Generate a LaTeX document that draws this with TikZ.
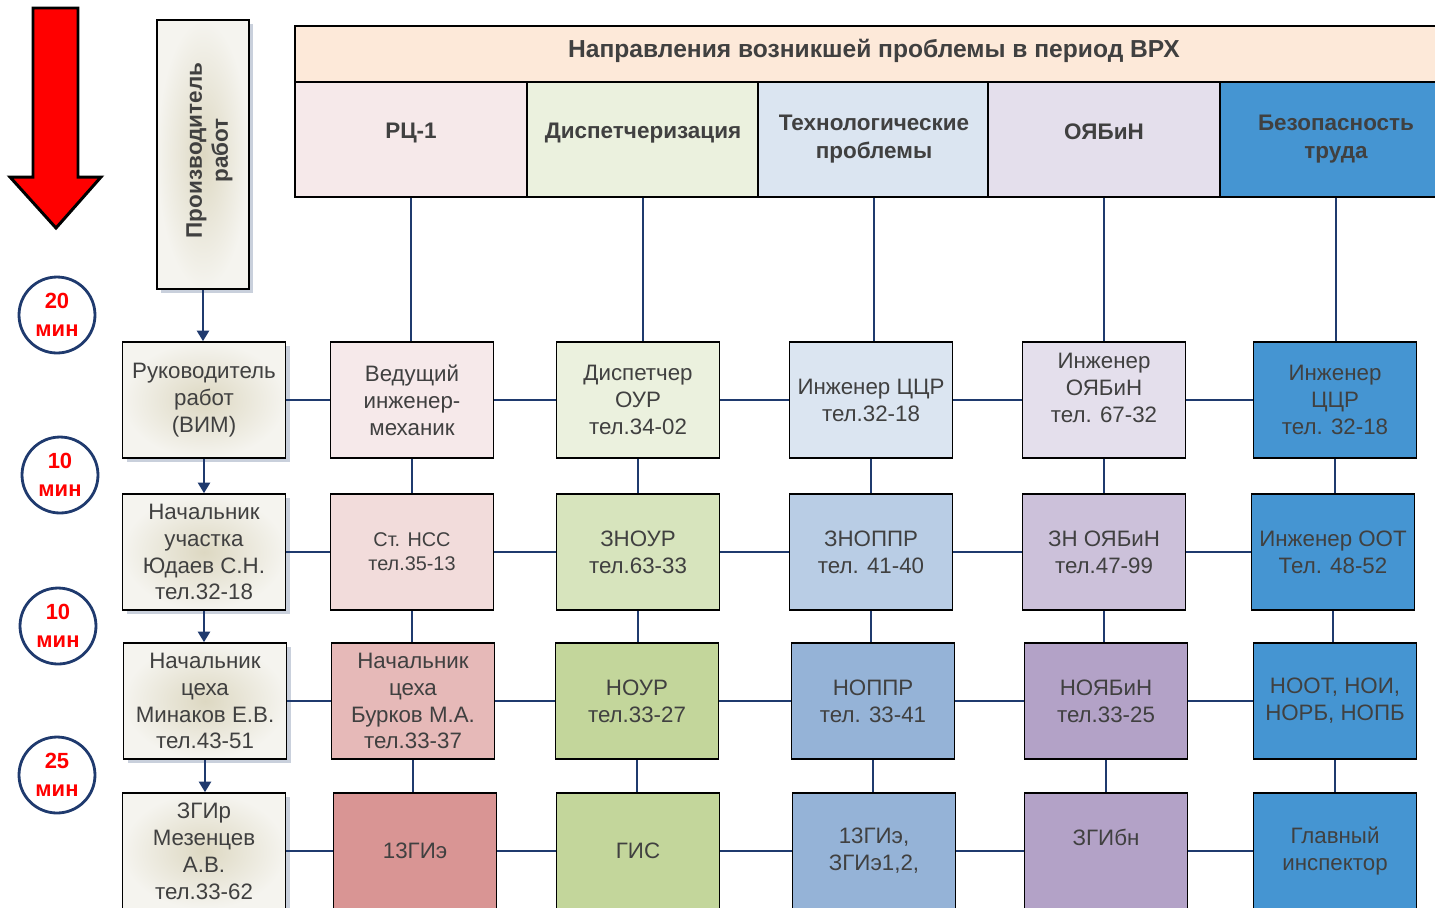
\documentclass[tikz,border=0pt]{standalone}
\usepackage{fontspec}
\setmainfont{Liberation Sans}
\usetikzlibrary{positioning, arrows.meta, shadows}
\definecolor{ink}{HTML}{404040}
\definecolor{navy}{HTML}{1F3A6E}
\definecolor{peach}{HTML}{FDE9D9}
\definecolor{paper}{HTML}{F5F4EF}
\definecolor{sand}{HTML}{DDD8C2}
\definecolor{rose1}{HTML}{F6E9EA}
\definecolor{rose2}{HTML}{F2DCDB}
\definecolor{rose3}{HTML}{E6B9B8}
\definecolor{rose4}{HTML}{D99594}
\definecolor{lime1}{HTML}{EBF1DE}
\definecolor{lime2}{HTML}{D7E4BD}
\definecolor{lime3}{HTML}{C3D69B}
\definecolor{sky1}{HTML}{DBE5F1}
\definecolor{sky2}{HTML}{B9CDE5}
\definecolor{sky3}{HTML}{95B3D7}
\definecolor{lilac1}{HTML}{E4DFEC}
\definecolor{lilac2}{HTML}{CCC1DA}
\definecolor{lilac3}{HTML}{B3A2C7}
\definecolor{steel}{HTML}{4595D2}

\begin{document}
\begin{tikzpicture}[x=0.02cm, y=-0.02cm,
    cell/.style={draw=black, line width=1pt, minimum width=3.26cm, minimum height=2.32cm,
      inner sep=1pt, align=center, text=ink, font=\fontsize{12.7}{15.3}\selectfont},
    lead/.style={cell, inner color=sand, outer color=paper,
      drop shadow={shadow xshift=2.5pt, shadow yshift=-2.5pt, fill=navy!40, opacity=0.6}},
    head/.style={draw=black, line width=1.2pt, minimum width=4.64cm, minimum height=2.3cm,
      inner sep=1pt, align=center, text=ink, font=\bfseries\fontsize{12.8}{15.9}\selectfont},
    timer/.style={circle, draw=navy, line width=1.6pt, minimum size=1.52cm, inner sep=0pt,
      align=center, text=red, font=\bfseries\fontsize{12.5}{15.9}\selectfont},
    link/.style={draw=navy, line width=1pt},
    flow/.style={link, -{Triangle[length=6pt, width=7pt]}}]
  \useasboundingbox (0,0) rectangle (1435,907);

  % time scale
  \draw[fill=red, line width=1.7pt, line join=miter]
    (33,8) -- (78,8) -- (78,177) -- (101,177) -- (56,228) -- (10,177) -- (33,177) -- cycle;
  \node[timer] (t1) at (57,315) {20\\мин};
  \node[timer] (t2) at (60,475) {10\\мин};
  \node[timer] (t3) at (58,626) {10\\мин};
  \node[timer] (t4) at (57,775) {25\\мин};

  % headers
  \node[draw=black, line width=1.2pt, fill=peach, minimum width=23.16cm, minimum height=1.12cm,
    text depth=7pt, text=ink, font=\bfseries\fontsize{14}{16}\selectfont] (top) at (874,54)
    {Направления возникшей проблемы в период ВРХ};
  \node[head, fill=rose1, text depth=10pt] (h1) at (411,139.5) {РЦ-1};
  \node[head, fill=lime1, text depth=10pt] (h2) at (643,139.5) {Диспетчеризация};
  \node[head, fill=sky1] (h3) at (874,139.5) {Технологические\\проблемы};
  \node[head, fill=lilac1, text depth=9pt] (h4) at (1104,139.5) {ОЯБиН};
  \node[head, fill=steel] (h5) at (1336,139.5) {Безопасность\\труда};

  \node[lead, minimum width=1.84cm, minimum height=5.38cm] (prod) at (203,154.5) {};
  \node[rotate=90, align=center, text=ink, font=\bfseries\fontsize{12.8}{14.8}\selectfont]
    (prodtext) at ([xshift=0.13cm, yshift=0.08cm]prod.center) {Производитель\\работ};

  % column 0
  \node[lead] (a0) at (204,400) {Руководитель\\работ\\(ВИМ)};
  \node[lead] (b0) at (204,552) {Начальник\\участка\\Юдаев С.Н.\\тел.32-18};
  \node[lead] (c0) at (205,701) {Начальник\\цеха\\Минаков Е.В.\\тел.43-51};
  \node[lead] (d0) at (204,851) {ЗГИр\\Мезенцев\\А.В.\\тел.33-62};

  % column 1
  \node[cell, fill=rose1] (a1) at (412,400) {Ведущий\\инженер-\\механик};
  \node[cell, fill=rose2, font=\fontsize{11.3}{13.6}\selectfont] (b1) at (412,552) {Ст. НСС\\тел.35-13};
  \node[cell, fill=rose3] (c1) at (413,701) {Начальник\\цеха\\Бурков М.А.\\тел.33-37};
  \node[cell, fill=rose4] (d1) at (415,851) {13ГИэ};

  % column 2
  \node[cell, fill=lime1] (a2) at (638,400) {Диспетчер\\ОУР\\тел.34-02};
  \node[cell, fill=lime2] (b2) at (638,552) {ЗНОУР\\тел.63-33};
  \node[cell, fill=lime3] (c2) at (637,701) {НОУР\\тел.33-27};
  \node[cell, fill=lime3] (d2) at (638,851) {ГИС};

  % column 3
  \node[cell, fill=sky1] (a3) at (871,400) {Инженер ЦЦР\\тел.32-18};
  \node[cell, fill=sky2] (b3) at (871,552) {ЗНОППР\\тел. 41-40};
  \node[cell, fill=sky3] (c3) at (873,701) {НОППР\\тел. 33-41};
  \node[cell, fill=sky3] (d3) at (874,851) {13ГИэ,\\ЗГИэ1,2,};

  % column 4
  \node[cell, fill=lilac1] (a4) at (1104,400) {Инженер\\ОЯБиН\\тел. 67-32\\[-1pt]\mbox{}};
  \node[cell, fill=lilac2] (b4) at (1104,552) {ЗН ОЯБиН\\тел.47-99};
  \node[cell, fill=lilac3] (c4) at (1106,701) {НОЯБиН\\тел.33-25};
  \node[cell, fill=lilac3] (d4) at (1106,851) {ЗГИбн\\\mbox{}};

  % column 5
  \node[cell, fill=steel] (a5) at (1335,400) {Инженер\\ЦЦР\\тел. 32-18};
  \node[cell, fill=steel] (b5) at (1333,552) {Инженер ООТ\\Тел. 48-52};
  \node[cell, fill=steel] (c5) at (1335,701) {НООТ, НОИ,\\НОРБ, НОПБ};
  \node[cell, fill=steel] (d5) at (1335,851) {Главный\\инспектор};

  % connectors
  \draw[flow] (prod.south) -- (prod.south |- a0.north);
  \foreach \r/\s in {a/b, b/c, c/d}
    \draw[flow] (\r0.south) -- (\r0.south |- \s0.north);
  \foreach \c in {1,...,5} {
    \draw[link] (h\c.south) -- (h\c.south |- a\c.north);
    \foreach \r/\s in {a/b, b/c, c/d}
      \draw[link] (\r\c.south) -- (\r\c.south |- \s\c.north);
  }
  \foreach \r in {a,b,c,d}
    \foreach \c/\d in {0/1, 1/2, 2/3, 3/4, 4/5}
      \draw[link] (\r\c.east) -- (\r\c.east -| \r\d.west);
\end{tikzpicture}
\end{document}
